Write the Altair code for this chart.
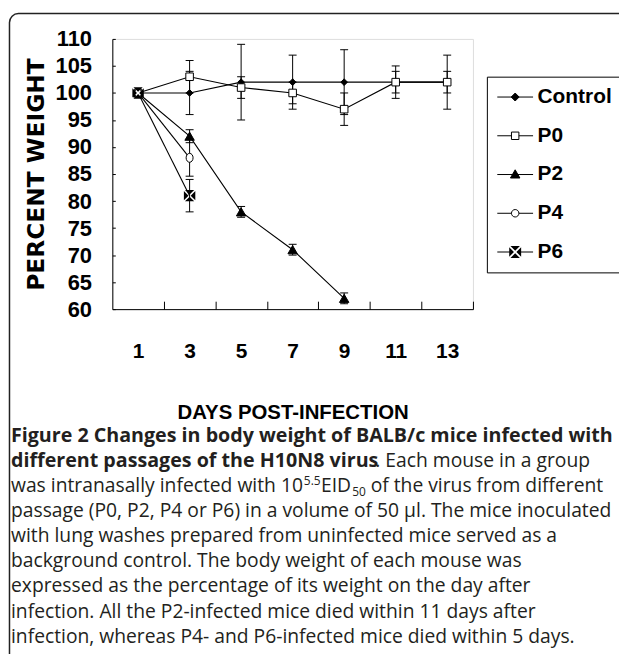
import altair as alt
import pandas as pd

# ---------------- data ----------------
days = [1, 3, 5, 7, 9, 11, 13]
series_names = ["Control", "P0", "P2", "P4", "P6"]
control_mean = [100, 100, 102, 102, 102, 102, 102]
control_sd = [0, 4, 7, 5, 6, 3, 5]
p0_mean = [100, 103, 101, 100, 97, 102, 102]
p0_sd = [0, 3, 2, 2, 3, 2, 2]
p2_mean = [100, 92, 78, 71, 62]
p2_sd = [0, 1.2, 1, 1, 1]
p4_mean = [100, 88]
p4_sd = [0, 3.4]
p6_mean = [100, 81]
p6_sd = [0, 3]

y_tick_values = [60, 65, 70, 75, 80, 85, 90, 95, 100, 105, 110]
x_label_values = [1, 3, 5, 7, 9, 11, 13]
x_tick_values = [2, 4, 6, 8, 10, 12, 14]

caption_lines = [
    "Figure 2 Changes in body weight of BALB/c mice infected with",
    "different passages of the H10N8 virus",
    ". Each mouse in a group",
    "was intranasally infected with 10",
    "5.5",
    "EID",
    "50",
    "of the virus from different",
    "passage (P0, P2, P4 or P6) in a volume of 50 \u00b5l. The mice inoculated",
    "with lung washes prepared from uninfected mice served as a",
    "background control. The body weight of each mouse was",
    "expressed as the percentage of its weight on the day after",
    "infection. All the P2-infected mice died within 11 days after",
    "infection, whereas P4- and P6-infected mice died within 5 days.",
]

rows = []
for name, means, sds in zip(series_names,
                            [control_mean, p0_mean, p2_mean, p4_mean, p6_mean],
                            [control_sd, p0_sd, p2_sd, p4_sd, p6_sd]):
    for d, m, s in zip(days, means, sds):
        rows.append({"series": name, "day": d, "value": m,
                     "lo": m - s, "hi": m + s, "sd": s})
df = pd.DataFrame(rows)

# ---------------- layout ----------------
W, H = 363, 272
OX, OY = 113, 37          # page position of plot origin
AXF = "Liberation Sans"
CAPF = "Open Sans"


def p6_marker(h, d, with_line=False):
    p = (f"M{-h + d},{-h}L{h - d},{-h}L0,{-d}Z"
         f"M{h},{-h + d}L{h},{h - d}L{d},0Z"
         f"M{h - d},{h}L{-h + d},{h}L0,{d}Z"
         f"M{-h},{h - d}L{-h},{-h + d}L{-d},0Z")
    if with_line:
        p = (f"M-3.6,-0.1H{-h}V0.1H-3.6Z"
             f"M{h},-0.1H3.6V0.1H{h}Z") + p
    return p


legend_paths = [
    "M-3.6,0H3.6M-0.8,0L0,-0.8L0.8,0L0,0.8Z",
    "M-3.6,0H-0.75M0.75,0H3.6M-0.75,-0.75H0.75V0.75H-0.75Z",
    "M-3.6,0H3.6M0,-0.95L0.95,0.7L-0.95,0.7Z",
    "M-3.6,0H-0.75M0.75,0H3.6M0.75,0A0.75,0.75,0,1,1,-0.75,0A0.75,0.75,0,1,1,0.75,0Z",
    p6_marker(1.2, 0.25, with_line=True),
]
legend_fill = ["black", "white", "black", "white", "black"]
legend_stroke = ["black", "black", "black", "black", "transparent"]

x_scale = alt.Scale(domain=[0, 14], nice=False, zero=False)
y_scale = alt.Scale(domain=[60, 110], nice=False, zero=False)

x_axis = alt.Axis(
    values=x_label_values, title="DAYS POST-INFECTION", ticks=False, tickSize=0,
    grid=False, domainColor="black", domainWidth=1,
    labelFont=AXF, labelFontWeight="bold", labelFontSize=21, labelColor="black",
    labelPadding=49, labelBaseline="alphabetic", labelFlush=False, labelOverlap=False,
    titleFont=AXF, titleFontWeight="bold", titleFontSize=20.5, titleColor="black",
    titleX=W / 2, titleY=110, titleAlign="center", titleBaseline="alphabetic",
)
y_axis = alt.Axis(
    values=y_tick_values, title="PERCENT WEIGHT", ticks=False, tickSize=0,
    grid=False, domainColor="black", domainWidth=1,
    labelFont=AXF, labelFontWeight="bold", labelFontSize=22, labelColor="black",
    labelPadding=21, labelFlush=False, labelOverlap=False,
    titleFont="DejaVu Sans", titleFontWeight="bold", titleFontSize=23.5,
    titleColor="black", titleAngle=270, titleX=-76, titleY=H / 2,
    titleAlign="center", titleBaseline="middle",
)

x_enc = alt.X("day:Q", scale=x_scale, axis=x_axis)
y_enc = alt.Y("value:Q", scale=y_scale, axis=y_axis)

base = alt.Chart(df)

lines = base.mark_line(color="black", strokeWidth=1.1).encode(
    x=x_enc, y=y_enc, detail="series:N", order="day:Q")

bars = base.transform_filter("datum.sd > 0")
err_rules = bars.mark_rule(color="black", strokeWidth=1).encode(
    x=x_enc, y=alt.Y("lo:Q", scale=y_scale, axis=y_axis), y2="hi:Q")
cap_lo = bars.mark_tick(orient="horizontal", size=8, thickness=1, color="black",
                        opacity=1).encode(
    x=x_enc, y=alt.Y("lo:Q", scale=y_scale, axis=y_axis))
cap_hi = bars.mark_tick(orient="horizontal", size=8, thickness=1, color="black",
                        opacity=1).encode(
    x=x_enc, y=alt.Y("hi:Q", scale=y_scale, axis=y_axis))

marker_style = {
    "Control": dict(shape="diamond", fill="black", size=45),
    "P0": dict(shape="square", fill="white", size=58),
    "P2": dict(shape="triangle-up", fill="black", size=90),
    "P4": dict(shape="M0.7,0A0.7,0.9,0,1,1,-0.7,0A0.7,0.9,0,1,1,0.7,0Z", fill="white", size=100),
}
markers = []
for s in ["Control", "P0", "P2", "P4"]:
    st = marker_style[s]
    markers.append(
        base.transform_filter(alt.datum.series == s).mark_point(
            shape=st["shape"], filled=True, fill=st["fill"], stroke="black",
            strokeWidth=1, size=st["size"], opacity=1).encode(x=x_enc, y=y_enc))
markers.append(
    base.transform_filter(alt.datum.series == "P6").mark_point(
        shape=p6_marker(1.15, 0.22), filled=True, fill="black", strokeOpacity=0,
        size=100, opacity=1).encode(x=x_enc, y=y_enc))

legend = alt.Legend(
    title=None, orient="none", legendX=377, legendY=38, padding=10,
    rowPadding=17, symbolOffset=8, labelOffset=12,
    labelFont=AXF, labelFontWeight="bold", labelFontSize=21, labelColor="black",
    strokeColor="black", fillColor="white", symbolStrokeWidth=1,
    symbolOpacity=1, labelLimit=300,
)
legend_layer = base.transform_filter("datum.day < 0").mark_point(
    filled=True, size=100, strokeWidth=1, opacity=1).encode(
    x=x_enc, y=y_enc,
    shape=alt.Shape("series:N", scale=alt.Scale(domain=series_names, range=legend_paths), legend=legend),
    fill=alt.Fill("series:N", scale=alt.Scale(domain=series_names, range=legend_fill), legend=legend),
    stroke=alt.Stroke("series:N", scale=alt.Scale(domain=series_names, range=legend_stroke), legend=legend),
)

one = alt.Data(values=[{"k": 1}])
border = alt.Chart(one).mark_rect(
    filled=False, stroke="#222", strokeWidth=1.5, cornerRadius=9).encode(
    x=alt.value(9.5 - OX), x2=alt.value(760 - OX),
    y=alt.value(11.5 - OY), y2=alt.value(760 - OY))

BOLD_SIZE = 19.8
REG_SIZE = 19.4


def txt(text, x, y, size=REG_SIZE, weight="normal"):
    return alt.Chart(one).mark_text(
        text=text, align="left", baseline="alphabetic", font=CAPF,
        fontSize=size, fontWeight=weight, color="#231f20").encode(
        x=alt.value(x - OX), y=alt.value(y - OY))


L0, P = 443, 25.2
cx = 11
l3 = L0 + 2 * P
caption = [
    txt(caption_lines[0], cx, L0, size=BOLD_SIZE, weight="bold"),
    txt(caption_lines[1], cx, L0 + P, size=BOLD_SIZE, weight="bold"),
    txt(caption_lines[2], 377.7, L0 + P),
    txt(caption_lines[3], cx, l3),
    txt(caption_lines[4], 305.8, l3 - 7, size=12),
    txt(caption_lines[5], 323.0, l3),
    txt(caption_lines[6], 354.5, l3 + 4, size=12),
    txt(caption_lines[7], 373.0, l3),
]
for i, line in enumerate(caption_lines[8:]):
    caption.append(txt(line, cx, L0 + (3 + i) * P))

inner = alt.layer(border, lines, err_rules, cap_lo, cap_hi, *markers,
                  legend_layer, *caption)

tick_layer = alt.Chart(df).mark_point(opacity=0).encode(
    x=alt.X("day:Q", scale=x_scale, axis=alt.Axis(
        orient="top", offset=-H, values=x_tick_values, labels=False,
        domain=False, ticks=True, tickSize=8, tickColor="black", tickWidth=1,
        grid=False, title=None)),
    y=alt.Y("value:Q", scale=y_scale, axis=alt.Axis(
        orient="right", offset=-W, values=y_tick_values, labels=False,
        domain=False, ticks=True, tickSize=3, tickColor="black", tickWidth=1,
        grid=False, title=None)),
)

chart = alt.layer(inner, tick_layer).resolve_scale(
    x="independent", y="independent").properties(
    width=W, height=H,
    autosize=alt.AutoSizeParams(type="none"),
    padding={"left": OX - 8, "top": OY - 8, "right": 615 - (OX - 8) - W,
             "bottom": 646 - (OY - 8) - H},
).configure_view(stroke="transparent").configure(background="white")

chart.save("out.html", embed_options={"renderer": "svg", "actions": False})
